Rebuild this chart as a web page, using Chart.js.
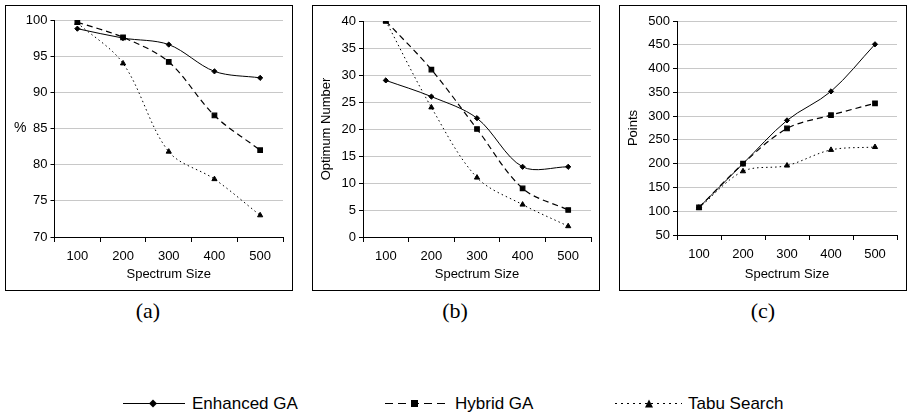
<!DOCTYPE html>
<html>
<head>
<meta charset="utf-8">
<script src="https://cdn.jsdelivr.net/npm/chart.js@4.4.1/dist/chart.umd.min.js"></script>
<style>
  body { margin: 0; background: #fff; }
  #page { position: relative; width: 909px; height: 417px; overflow: hidden; background: #fff;
          font-family: "Liberation Sans", Arial, sans-serif; color: #000; }
  .panel { position: absolute; top: 5px; width: 286px; height: 284px; border: 1px solid #000; }
  .panel canvas { display: block; }
  .caption { position: absolute; top: 298px; width: 60px; text-align: center;
             font-family: "Liberation Serif", "DejaVu Serif", serif; font-size: 22px; }
  .ylab { position: absolute; font-size: 14px; }
  .legtext { position: absolute; top: 394px; font-size: 17px; line-height: 20px; white-space: nowrap; }
  #legend { position: absolute; left: 0; top: 390px; }
</style>
</head>
<body>
<div id="page">
  <div class="panel" style="left:5px"><canvas id="chartA" width="286" height="284"></canvas></div>
  <div class="panel" style="left:312px"><canvas id="chartB" width="286" height="284"></canvas></div>
  <div class="panel" style="left:619px"><canvas id="chartC" width="286" height="284"></canvas></div>
  <div class="ylab" style="left:14px; top:119px">%</div>

  <div class="caption" style="left:118px">(a)</div>
  <div class="caption" style="left:425px">(b)</div>
  <div class="caption" style="left:733px">(c)</div>

  <svg id="legend" width="909" height="27">
    <line x1="123" y1="13.5" x2="185" y2="13.5" stroke="#000" stroke-width="1.2"/>
    <polygon points="153,9.5 157,13.5 153,17.5 149,13.5" fill="#000"/>
    <line x1="385" y1="13.5" x2="448" y2="13.5" stroke="#000" stroke-width="1.2" stroke-dasharray="8,5"/>
    <rect x="411" y="10" width="7" height="7" fill="#000"/>
    <line x1="615" y1="13.5" x2="682" y2="13.5" stroke="#000" stroke-width="1.2" stroke-dasharray="2,4"/>
    <polygon points="649,9.5 653,17.5 645,17.5" fill="#000"/>
  </svg>
  <div class="legtext" style="left:192px">Enhanced GA</div>
  <div class="legtext" style="left:455px">Hybrid GA</div>
  <div class="legtext" style="left:688px">Tabu Search</div>
</div>

<script>
// Spectrum sizes (x categories)
const spectrumSizes = ['100', '200', '300', '400', '500'];

// (a) accuracy in %
const accuracyEnhanced = [98.8, 97.5, 96.6, 92.9, 92.0];
const accuracyHybrid   = [99.7, 97.6, 94.2, 86.8, 82.0];
const accuracyTabu     = [99.6, 94.0, 81.8, 78.0, 73.0];
const accuracyAxis     = [70, 100, 5];   // min, max, step

// (b) optimum number
const optimumEnhanced = [29, 26, 22, 13, 13];
const optimumHybrid   = [40, 31, 20, 9, 5];
const optimumTabu     = [40, 24, 11, 6, 2];
const optimumAxis     = [0, 40, 5];

// (c) points
const pointsEnhanced = [108, 200, 291, 352, 451];
const pointsHybrid   = [108, 200, 274, 302, 327];
const pointsTabu     = [107, 184, 196, 229, 235];
const pointsAxis     = [50, 500, 50];

const seriesNames = ['Enhanced GA', 'Hybrid GA', 'Tabu Search'];

const fontFamily = '"Liberation Sans", Arial, sans-serif';

function makeDatasets(enh, hyb, tabu) {
    return [
        {
            label: seriesNames[0], data: enh,
            borderColor: '#000', backgroundColor: '#000', borderWidth: 1,
            pointStyle: 'rectRot', pointRadius: 2.6, tension: 0.33
        },
        {
            label: seriesNames[1], data: hyb,
            borderColor: '#000', backgroundColor: '#000', borderWidth: 1.2, borderDash: [6, 4],
            pointStyle: 'rect', pointRadius: 3.2, tension: 0.33
        },
        {
            label: seriesNames[2], data: tabu,
            borderColor: '#000', backgroundColor: '#000', borderWidth: 1, borderDash: [1.5, 3],
            pointStyle: 'triangle', pointRadius: 3, tension: 0.33
        }
    ];
}

// geometry: left = y axis width, top / right padding, bottom = x axis height
function makeChart(id, yTitle, axis, enh, hyb, tabu, geo) {
    const ctx = document.getElementById(id).getContext('2d');
    return new Chart(ctx, {
        type: 'line',
        data: { labels: spectrumSizes, datasets: makeDatasets(enh, hyb, tabu) },
        options: {
            responsive: false,
            animation: false,
            layout: { padding: { top: geo.top, right: geo.right, left: 0, bottom: 0 } },
            plugins: { legend: { display: false }, tooltip: { enabled: false } },
            scales: {
                x: {
                    offset: true,
                    grid: { offset: true, drawOnChartArea: false, drawTicks: true, tickLength: 5, color: '#000' },
                    border: { color: '#000', width: 1 },
                    ticks: { color: '#000', padding: 7, font: { family: fontFamily, size: 13 }, maxRotation: 0 },
                    title: { display: true, text: 'Spectrum Size', color: '#000',
                             font: { family: fontFamily, size: 13 }, padding: { top: 0, bottom: 8 } },
                    afterFit: function(scale) { scale.height = geo.bottom; }
                },
                y: {
                    min: axis[0], max: axis[1],
                    grid: { color: '#c8c8c8', tickColor: '#000', tickLength: 4, drawTicks: true },
                    border: { color: '#000', width: 1 },
                    ticks: { stepSize: axis[2], color: '#000', padding: 3, font: { family: fontFamily, size: 13 } },
                    title: { display: !!yTitle, text: yTitle, color: '#000',
                             font: { family: fontFamily, size: 13 }, padding: { top: 6, bottom: 0 } },
                    afterFit: function(scale) { scale.width = geo.left; }
                }
            }
        }
    });
}

makeChart('chartA', '', accuracyAxis, accuracyEnhanced, accuracyHybrid, accuracyTabu,
    { left: 48.5, top: 14, right: 9, bottom: 53 });
makeChart('chartB', 'Optimum Number', optimumAxis, optimumEnhanced, optimumHybrid, optimumTabu,
    { left: 50, top: 15, right: 8, bottom: 53 });
makeChart('chartC', 'Points', pointsAxis, pointsEnhanced, pointsHybrid, pointsTabu,
    { left: 57, top: 15, right: 9, bottom: 55 });
</script>
</body>
</html>
